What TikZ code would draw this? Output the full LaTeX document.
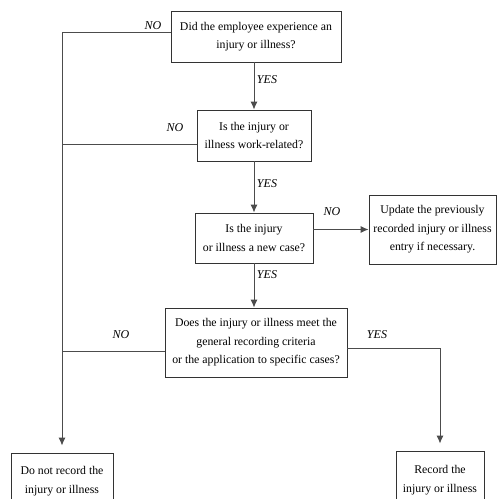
\documentclass[tikz,border=0pt]{standalone}
\usepackage{fontspec}
\setmainfont{Liberation Serif}
\usetikzlibrary{arrows.meta}
\begin{document}
\begin{tikzpicture}[x=1pt,y=-1pt,
  box/.style={draw=black!80, line width=0.9pt, align=center, inner sep=0pt, font=\fontsize{11.8}{18.5}\selectfont},
  lbl/.style={font=\fontsize{12}{14}\selectfont\itshape},
  link/.style={draw=black!70, line width=0.9pt},
  arr/.style={link, -{Latex[length=8pt,width=7pt]}}]
\clip (0,0) rectangle (497,499);
\node[box, minimum width=170, minimum height=51] (q1) at (256,36.5) {Did the employee experience an\\ injury or illness?};
\node[box, minimum width=114, minimum height=51] (q2) at (254,135.5) {Is the injury or\\ illness work-related?};
\node[box, minimum width=118, minimum height=50] (q3) at (254,238) {Is the injury\\ or illness a new case?};
\node[box, minimum width=127, minimum height=69] (upd) at (432.5,229.5) {Update the previously\\ recorded injury or illness\\ entry if necessary.};
\node[box, minimum width=182, minimum height=69] (q4) at (256,342.5) {Does the injury or illness meet the\\ general recording criteria\\ or the application to specific cases?};
\node[box, minimum width=102, minimum height=56] (skip) at (62,481) {Do not record the\\ injury or illness};
\node[box, minimum width=88, minimum height=58] (rec) at (440,480) {Record the\\ injury or illness};
% yes branch
\draw[arr] (q1.south -| q2) -- (q2.north);
\draw[arr] (q2.south) -- (q3.north);
\draw[arr] (q3.south) -- (q3.south |- q4.north);
\draw[arr] (q3.east |- upd) -- (upd.west);
\draw[arr] ([yshift=-5.5pt]q4.east) -| ([yshift=7pt]rec.north);
% no branch
\draw[arr] ([yshift=4pt]q1.west) -| ([yshift=7pt]skip.north);
\draw[link] ([yshift=-8.5pt]q2.west) -- ([yshift=-8.5pt]q2.west -| skip);
\draw[link] ([yshift=-8.5pt]q4.west) -- ([yshift=-8.5pt]q4.west -| skip);
% labels
\node[lbl] (n1) at (153,26) {NO};
\node[lbl] (y1) at (267,80) {YES};
\node[lbl] (n2) at (175,128) {NO};
\node[lbl] (y2) at (267,184) {YES};
\node[lbl] (n3) at (332,212) {NO};
\node[lbl] (y3) at (267,275) {YES};
\node[lbl] (n4) at (121,335) {NO};
\node[lbl] (y4) at (377,335) {YES};
\end{tikzpicture}
\end{document}
